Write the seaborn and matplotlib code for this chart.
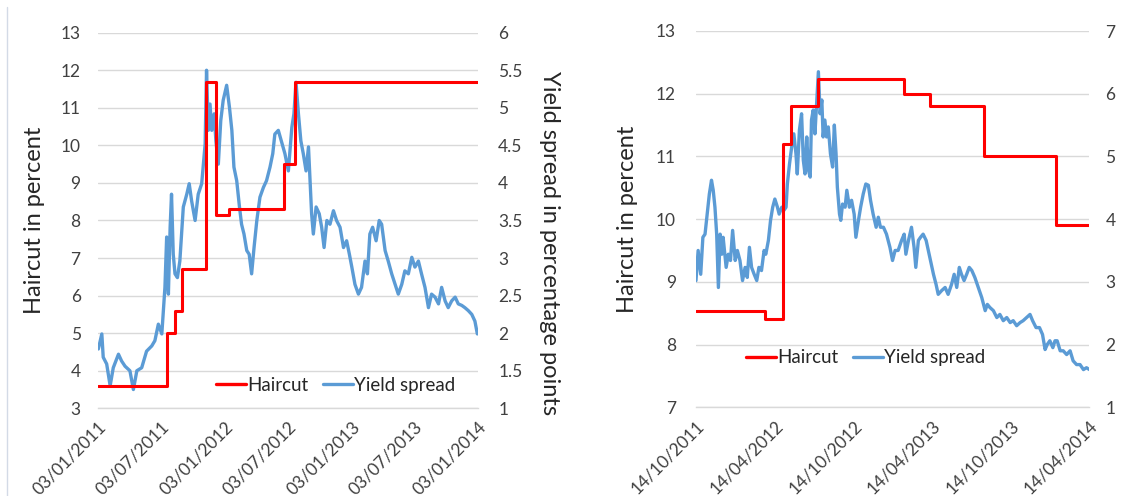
import numpy as np
import pandas as pd
import matplotlib
matplotlib.use("Agg")
import matplotlib.pyplot as plt
import matplotlib.dates as mdates
from matplotlib.ticker import FixedLocator, FuncFormatter
from matplotlib.lines import Line2D
import seaborn as sns

sns.set_theme(style="white")
plt.rcParams["font.family"] = ["Lato", "DejaVu Sans"]

RED = "#FF0000"
BLUE = "#5B9BD5"
GRID = "#D9D9D9"
TICK_TXT = "#404040"
LABEL_TXT = "#262626"

# ---------------- Panel 1: 3 Jan 2011 - 3 Jan 2014 ----------------
start_l = "2011-01-03"
end_l = "2014-01-03"
xticks_l = ["2011-01-03", "2011-07-03", "2012-01-03", "2012-07-03",
            "2013-01-03", "2013-07-03", "2014-01-03"]

# haircut schedule (percent), value applies from the given date on
haircut_dates_l = ["2011-01-03", "2011-07-22", "2011-08-13", "2011-09-01",
                   "2011-11-10", "2011-12-09", "2012-01-17", "2012-06-21",
                   "2012-07-24", "2014-01-03"]
haircut_vals_l = [3.6, 5.0, 5.6, 6.7, 11.7, 8.15, 8.3, 9.5, 11.7, 11.7]

# yield spread (percentage points); days counted from 3 Jan 2011
spread_days_l = [1, 11, 15, 25, 35, 44, 59, 68, 78, 92, 102, 112, 126, 140, 155,
                 164, 174, 184, 193, 198, 203, 208, 212, 217, 222, 229, 236, 246,
                 256, 263, 270, 280, 289, 299, 309, 313, 318, 323, 328, 335, 340,
                 347, 354, 361, 371, 379, 386, 392, 400, 408, 414, 421, 429, 436,
                 443, 450, 458, 467, 477, 486, 496, 504, 510, 520, 539, 549, 559,
                 565, 571, 578, 585, 592, 600, 607, 611, 616, 621, 629, 638, 645,
                 652, 660, 669, 679, 688, 698, 708, 717, 725, 732, 741, 751, 760,
                 770, 777, 784, 792, 802, 811, 818, 828, 837, 847, 857, 866, 876,
                 885, 895, 905, 914, 924, 933, 943, 953, 962, 972, 982, 991, 1001,
                 1010, 1020, 1030, 1039, 1049, 1058, 1068, 1078, 1087, 1094]
spread_vals_l = [1.79, 1.99, 1.68, 1.59, 1.30, 1.54, 1.72, 1.63, 1.56, 1.50, 1.25,
                 1.50, 1.54, 1.76, 1.83, 1.90, 2.12, 1.99, 2.61, 3.28, 2.52, 3.41,
                 3.85, 3.05, 2.79, 2.74, 2.96, 3.68, 3.85, 3.99, 3.76, 3.50, 3.85,
                 3.99, 4.52, 5.50, 4.70, 5.05, 4.70, 4.92, 4.56, 4.25, 4.83, 5.10,
                 5.30, 5.01, 4.70, 4.21, 4.03, 3.68, 3.45, 3.32, 3.10, 3.05, 2.79,
                 3.14, 3.50, 3.81, 3.94, 4.03, 4.21, 4.39, 4.65, 4.70, 4.39, 4.16,
                 4.74, 4.92, 5.34, 4.92, 4.56, 4.39, 4.16, 4.48, 4.08, 3.59, 3.32,
                 3.68, 3.59, 3.41, 3.14, 3.50, 3.45, 3.63, 3.50, 3.41, 3.14, 3.23,
                 3.05, 2.88, 2.65, 2.52, 2.61, 2.96, 2.79, 3.32, 3.41, 3.23, 3.50,
                 3.45, 3.10, 2.96, 2.79, 2.65, 2.52, 2.65, 2.83, 2.79, 3.01, 2.88,
                 2.96, 2.79, 2.61, 2.34, 2.52, 2.48, 2.39, 2.61, 2.43, 2.34, 2.43,
                 2.48, 2.39, 2.37, 2.34, 2.30, 2.25, 2.16, 1.99]

# ---------------- Panel 2: 14 Oct 2011 - 14 Apr 2014 ----------------
start_r = "2011-10-14"
end_r = "2014-04-14"
xticks_r = ["2011-10-14", "2012-04-14", "2012-10-14", "2013-04-14",
            "2013-10-14", "2014-04-14"]

haircut_dates_r = ["2011-10-14", "2012-03-23", "2012-05-02", "2012-05-21",
                   "2012-07-24", "2013-02-08", "2013-04-10", "2013-08-13",
                   "2014-01-27", "2014-04-14"]
haircut_vals_r = [8.54, 8.4, 11.2, 11.8, 12.23, 12.0, 11.8, 11.0, 9.9, 9.9]

# yield spread (percentage points); days counted from 14 Oct 2011
spread_days_r = [0, 5, 11, 16, 21, 26, 31, 36, 40, 44, 48, 52, 56, 60, 63, 70, 75,
                 80, 85, 91, 96, 102, 108, 114, 119, 124, 129, 135, 141, 146, 152,
                 158, 162, 168, 173, 178, 183, 189, 193, 199, 204, 209, 212, 217,
                 222, 227, 232, 235, 240, 245, 249, 253, 257, 261, 265, 268, 272,
                 276, 280, 284, 288, 292, 295, 299, 303, 307, 312, 317, 321, 325,
                 328, 333, 336, 340, 346, 350, 356, 361, 367, 371, 377, 382, 388,
                 394, 400, 405, 411, 418, 423, 428, 435, 442, 450, 456, 462, 469,
                 477, 483, 487, 493, 500, 506, 510, 516, 521, 527, 534, 539, 544,
                 551, 557, 562, 570, 578, 585, 593, 599, 605, 611, 616, 622, 628,
                 634, 640, 647, 655, 663, 671, 676, 682, 690, 698, 705, 713, 721,
                 729, 736, 744, 752, 759, 767, 775, 781, 789, 797, 804, 810, 815,
                 821, 828, 833, 838, 845, 852, 860, 868, 875, 883, 891, 899, 906,
                 913]
spread_vals_r = [3.02, 3.50, 3.12, 3.71, 3.76, 4.08, 4.40, 4.62, 4.46, 4.19, 3.76,
                 2.91, 3.76, 3.44, 3.71, 3.23, 3.44, 3.34, 3.82, 3.34, 3.50, 3.34,
                 3.02, 3.23, 3.07, 3.55, 3.23, 3.12, 3.02, 3.23, 3.18, 3.50, 3.44,
                 3.66, 3.98, 4.19, 4.32, 4.19, 4.08, 4.19, 4.14, 4.19, 4.56, 4.88,
                 5.15, 5.36, 5.04, 4.72, 5.42, 5.68, 4.94, 4.72, 5.31, 4.78, 4.67,
                 5.58, 5.74, 5.36, 5.84, 6.35, 5.68, 5.90, 5.31, 5.58, 5.31, 5.47,
                 5.04, 4.83, 5.50, 5.04, 4.51, 4.08, 3.98, 4.24, 4.19, 4.46, 4.19,
                 4.30, 4.08, 3.71, 3.98, 4.19, 4.40, 4.56, 4.54, 4.30, 4.08, 3.87,
                 4.03, 3.87, 3.87, 3.76, 3.55, 3.34, 3.50, 3.50, 3.66, 3.76, 3.44,
                 3.66, 3.87, 3.55, 3.23, 3.66, 3.71, 3.76, 3.66, 3.50, 3.34, 3.12,
                 2.96, 2.80, 2.86, 2.91, 2.80, 2.96, 3.12, 2.91, 3.23, 3.12, 3.02,
                 3.12, 3.23, 3.18, 3.07, 2.91, 2.75, 2.54, 2.64, 2.59, 2.54, 2.43,
                 2.48, 2.38, 2.43, 2.35, 2.38, 2.30, 2.35, 2.38, 2.43, 2.48, 2.38,
                 2.27, 2.27, 2.16, 1.92, 2.00, 2.06, 1.95, 2.06, 2.06, 1.90, 1.90,
                 1.84, 1.90, 1.74, 1.68, 1.68, 1.60, 1.63, 1.60]


def spread_frame(start, days, vals):
    dates = pd.Timestamp(start) + pd.to_timedelta(np.asarray(days), unit="D")
    return pd.DataFrame({"date": dates, "spread": vals})


def haircut_frame(dates, vals):
    return pd.DataFrame({"date": pd.to_datetime(dates), "haircut": vals})


def draw_panel(ax, hc, sp, start, end, xticks, hc_lim, sp_lim, sp_step,
               legend_anchor, sp_label=None, left_pad=12.5, right_pad=14.5):
    ax2 = ax.twinx()
    # haircut axis drawn above the spread axis
    ax.set_zorder(ax2.get_zorder() + 1)
    ax.patch.set_visible(False)

    sns.lineplot(data=sp, x="date", y="spread", ax=ax2, color=BLUE,
                 linewidth=2.4, estimator=None, legend=False)
    sns.lineplot(data=hc, x="date", y="haircut", ax=ax, color=RED,
                 linewidth=2.2, estimator=None, drawstyle="steps-post",
                 legend=False)

    ax.set_xlim(pd.Timestamp(start), pd.Timestamp(end))
    ax.set_ylim(*hc_lim)
    ax2.set_ylim(*sp_lim)

    ax.yaxis.set_major_locator(FixedLocator(np.arange(hc_lim[0], hc_lim[1] + 0.01, 1)))
    ax2.yaxis.set_major_locator(FixedLocator(np.arange(sp_lim[0], sp_lim[1] + 0.01, sp_step)))
    ax2.yaxis.set_major_formatter(FuncFormatter(lambda v, p: f"{v:g}"))

    ax.xaxis.set_major_locator(FixedLocator(mdates.date2num(pd.to_datetime(xticks))))
    ax.xaxis.set_major_formatter(mdates.DateFormatter("%d/%m/%Y"))

    ax2.grid(False)
    ax2.yaxis.grid(True, color=GRID, linewidth=1)
    ax2.set_axisbelow(True)
    ax.grid(False)

    for a in (ax, ax2):
        for s in a.spines.values():
            s.set_visible(False)
    ax.spines["bottom"].set_visible(True)
    ax.spines["bottom"].set_color(GRID)
    ax.spines["bottom"].set_linewidth(1)

    ax.tick_params(axis="x", length=5, width=1, color=GRID, direction="out",
                   labelsize=12.5, labelcolor=TICK_TXT, pad=2.5)
    ax.tick_params(axis="y", length=0, labelsize=12.5, labelcolor=TICK_TXT,
                   pad=left_pad)
    ax2.tick_params(axis="y", length=0, labelsize=12.5, labelcolor=TICK_TXT,
                    pad=right_pad)
    for lbl in ax.get_xticklabels():
        lbl.set_rotation(45)
        lbl.set_ha("right")
        lbl.set_va("top")
        lbl.set_rotation_mode("anchor")

    ax.set_xlabel("")
    ax.set_ylabel("Haircut in percent", fontsize=17, color=LABEL_TXT)
    ax.yaxis.label.set_va("center")
    if sp_label:
        ax2.set_ylabel(sp_label, fontsize=17, color=LABEL_TXT, rotation=270)
        ax2.yaxis.label.set_va("center")
    else:
        ax2.set_ylabel("")

    handles = [Line2D([], [], color=RED, linewidth=2.4),
               Line2D([], [], color=BLUE, linewidth=2.4)]
    ax.legend(handles, ["Haircut", "Yield spread"], loc="center left",
              bbox_to_anchor=legend_anchor, ncol=2, frameon=False,
              handlelength=1.6, handletextpad=0.05, columnspacing=0.8,
              borderaxespad=0, borderpad=0, fontsize=13.5,
              labelcolor=LABEL_TXT)
    return ax2


fig = plt.figure(figsize=(11.24, 4.96), dpi=100)
ax_l = fig.add_axes([0.0872, 0.1768, 0.3381, 0.7573])
ax_r = fig.add_axes([0.6192, 0.1790, 0.3501, 0.7585])

ax_l2 = draw_panel(ax_l, haircut_frame(haircut_dates_l, haircut_vals_l),
                   spread_frame(start_l, spread_days_l, spread_vals_l),
                   start_l, end_l, xticks_l, (3, 13), (1, 6), 0.5,
                   (0.31, 0.062), sp_label="Yield spread in percentage points",
                   left_pad=12.5, right_pad=14.5)
ax_l.yaxis.set_label_coords(-0.168, 0.5)
ax_l2.yaxis.set_label_coords(1.189, 0.44)

ax_r2 = draw_panel(ax_r, haircut_frame(haircut_dates_r, haircut_vals_r),
                   spread_frame(start_r, spread_days_r, spread_vals_r),
                   start_r, end_r, xticks_r, (7, 13), (1, 7), 1,
                   (0.127, 0.131), sp_label=None,
                   left_pad=14.5, right_pad=11.5)
ax_r.yaxis.set_label_coords(-0.173, 0.5)

# thin page-border rule along the left edge
fig.add_artist(Line2D([0.0065, 0.0065], [0.0, 0.985], transform=fig.transFigure,
                      color="#D3DAE6", linewidth=1))

fig.savefig("out.png", dpi=100, facecolor="white")
